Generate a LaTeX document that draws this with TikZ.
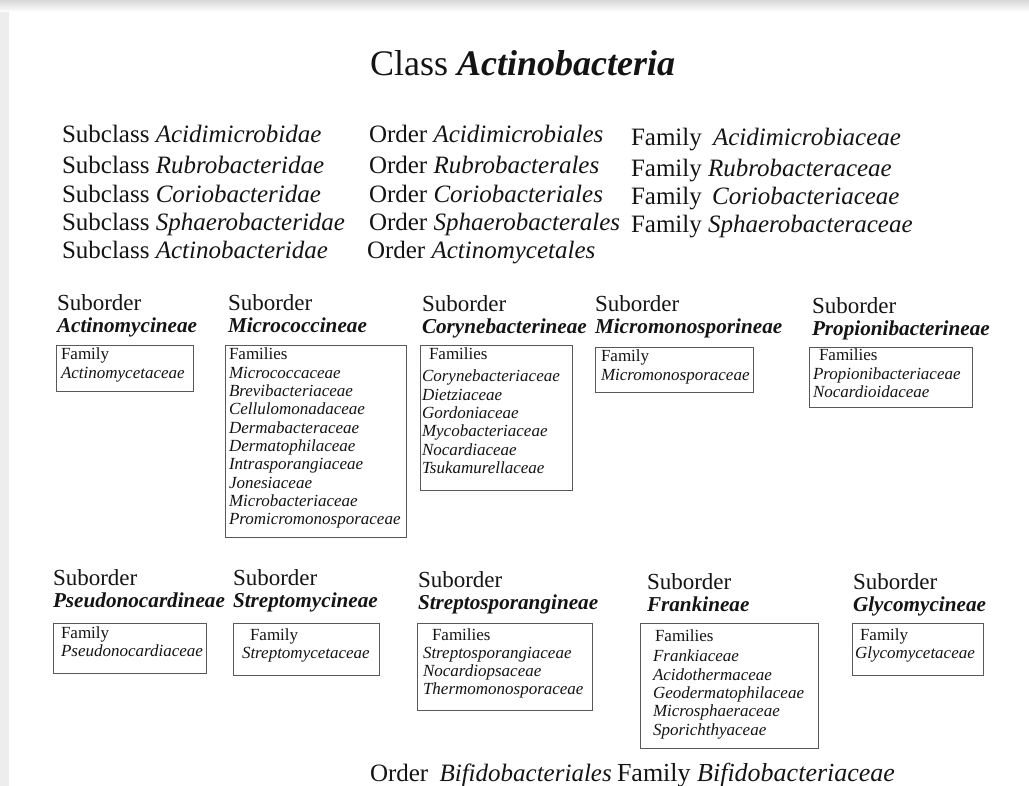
\documentclass[tikz,border=0pt]{standalone}
\usepackage{fontspec}
\setmainfont{Liberation Serif}
\begin{document}
\begin{tikzpicture}[x=1pt,y=-1pt,
  every node/.style={inner sep=0pt, outer sep=0pt, text=black!92},
  toprow/.style={anchor=base west, font=\fontsize{25}{30}\selectfont},
  subhead/.style={anchor=base west, font=\fontsize{21.2}{22}\selectfont},
  fambox/.style={draw=black!65, line width=0.9pt, anchor=north west},
  famtext/.style={anchor=base west, font=\fontsize{17}{18.3}\selectfont},
]
\newcommand{\tl}[1]{\begin{tabular}[t]{@{}l@{}}#1\end{tabular}}
\newcommand{\bi}[1]{\textbf{\textit{#1}}}
\newcommand{\sord}{{\fontsize{23}{22}\selectfont Suborder}}
% page background
\useasboundingbox (0,0) rectangle (1029,786);
\fill[gray!14] (0,0) rectangle (1029,786);
\shade[top color=gray!30, bottom color=white] (0,0) rectangle (1029,12);
\fill[white] (9,12) rectangle (1029,786);

% title
\node[anchor=base west, font=\fontsize{36}{40}\selectfont] (title) at (370,76) {Class \bi{Actinobacteria}};

% top rows
\node[toprow] (sc1) at (62,143) {Subclass \textit{Acidimicrobidae}};
\node[toprow] (sc2) at (62,174) {Subclass \textit{Rubrobacteridae}};
\node[toprow] (sc3) at (62,203) {Subclass \textit{Coriobacteridae}};
\node[toprow] (sc4) at (62,231) {Subclass \textit{Sphaerobacteridae}};
\node[toprow] (sc5) at (62,259) {Subclass \textit{Actinobacteridae}};

\node[toprow] (or1) at (369,143) {Order \textit{Acidimicrobiales}};
\node[toprow] (or2) at (369,174) {Order \textit{Rubrobacterales}};
\node[toprow] (or3) at (369,203) {Order \textit{Coriobacteriales}};
\node[toprow] (or4) at (369,231) {Order \textit{Sphaerobacterales}};
\node[toprow] (or5) at (367,259) {Order \textit{Actinomycetales}};

\node[toprow] (fa1) at (631,146) {Family\hspace{5pt} \textit{Acidimicrobiaceae}};
\node[toprow] (fa2) at (631,177) {Family \textit{Rubrobacteraceae}};
\node[toprow] (fa3) at (631,205) {Family\hspace{4pt} \textit{Coriobacteriaceae}};
\node[toprow] (fa4) at (631,233) {Family \textit{Sphaerobacteraceae}};

% suborders, first row
\node[subhead] (h1) at (57,311) {\tl{\sord\\ \bi{Actinomycineae}}};
\node[subhead] (h2) at (228,311) {\tl{\sord\\ \bi{Micrococcineae}}};
\node[subhead] (h3) at (422,312) {\tl{\sord\\ \bi{Corynebacterineae}}};
\node[subhead] (h4) at (595,312) {\tl{\sord\\ \bi{Micromonosporineae}}};
\node[subhead] (h5) at (812,314) {\tl{\sord\\ \bi{Propionibacterineae}}};

\node[fambox, minimum width=137, minimum height=46] (b1) at (56,345) {};
\node[famtext] (t1) at (61,360) {\tl{Family\\ \textit{Actinomycetaceae}}};

\node[fambox, minimum width=181, minimum height=192] (b2) at (225,345) {};
\node[famtext] (t2) at (229,360) {\tl{Families\\ \textit{Micrococcaceae}\\ \textit{Brevibacteriaceae}\\ \textit{Cellulomonadaceae}\\ \textit{Dermabacteraceae}\\ \textit{Dermatophilaceae}\\ \textit{Intrasporangiaceae}\\ \textit{Jonesiaceae}\\ \textit{Microbacteriaceae}\\ \textit{Promicromonosporaceae}}};

\node[fambox, minimum width=152, minimum height=145] (b3) at (420,345) {};
\node[famtext] (t3) at (422,360) {\tl{\hspace*{7pt}Families\\[3.7pt] \textit{Corynebacteriaceae}\\ \textit{Dietziaceae}\\ \textit{Gordoniaceae}\\ \textit{Mycobacteriaceae}\\ \textit{Nocardiaceae}\\ \textit{Tsukamurellaceae}}};

\node[fambox, minimum width=158, minimum height=45] (b4) at (595,347) {};
\node[famtext] (t4) at (601,362) {\tl{Family\\ \textit{Micromonosporaceae}}};

\node[fambox, minimum width=163, minimum height=60] (b5) at (809,347) {};
\node[famtext] (t5) at (813,361) {\tl{\hspace*{6pt}Families\\ \textit{Propionibacteriaceae}\\ \textit{Nocardioidaceae}}};

% suborders, second row
\node[subhead] (h6) at (53,585) {\tl{\sord\\ \bi{Pseudonocardineae}}};
\node[subhead] (h7) at (233,585) {\tl{\sord\\ \bi{Streptomycineae}}};
\node[subhead] (h8) at (418,587) {\tl{\sord\\ \bi{Streptosporangineae}}};
\node[subhead] (h9) at (647,589) {\tl{\sord\\ \bi{Frankineae}}};
\node[subhead] (h10) at (853,589) {\tl{\sord\\ \bi{Glycomycineae}}};

\node[fambox, minimum width=153, minimum height=50] (b6) at (53,623) {};
\node[famtext] (t6) at (61,638) {\tl{Family\\ \textit{Pseudonocardiaceae}}};

\node[fambox, minimum width=146, minimum height=52] (b7) at (233,623) {};
\node[famtext] (t7) at (242,640) {\tl{\hspace*{8pt}Family\\ \textit{Streptomycetaceae}}};

\node[fambox, minimum width=175, minimum height=87] (b8) at (417,623) {};
\node[famtext] (t8) at (423,640) {\tl{\hspace*{9pt}Families\\ \textit{Streptosporangiaceae}\\ \textit{Nocardiopsaceae}\\ \textit{Thermomonosporaceae}}};

\node[fambox, minimum width=178, minimum height=125] (b9) at (640,623) {};
\node[famtext] (t9) at (653,641) {\tl{\hspace*{2pt}Families\\[2.5pt] \textit{Frankiaceae}\\ \textit{Acidothermaceae}\\ \textit{Geodermatophilaceae}\\ \textit{Microsphaeraceae}\\ \textit{Sporichthyaceae}}};

\node[fambox, minimum width=131, minimum height=52] (b10) at (852,623) {};
\node[famtext] (t10) at (855,640) {\tl{\hspace*{5pt}Family\\ \textit{Glycomycetaceae}}};

% bottom line
\node[toprow] (obif) at (370,781) {Order\hspace{5pt} \textit{Bifidobacteriales}};
\node[toprow, font=\fontsize{26}{30}\selectfont] (fbif) at (617,781) {Family \textit{Bifidobacteriaceae}};
\end{tikzpicture}
\end{document}
